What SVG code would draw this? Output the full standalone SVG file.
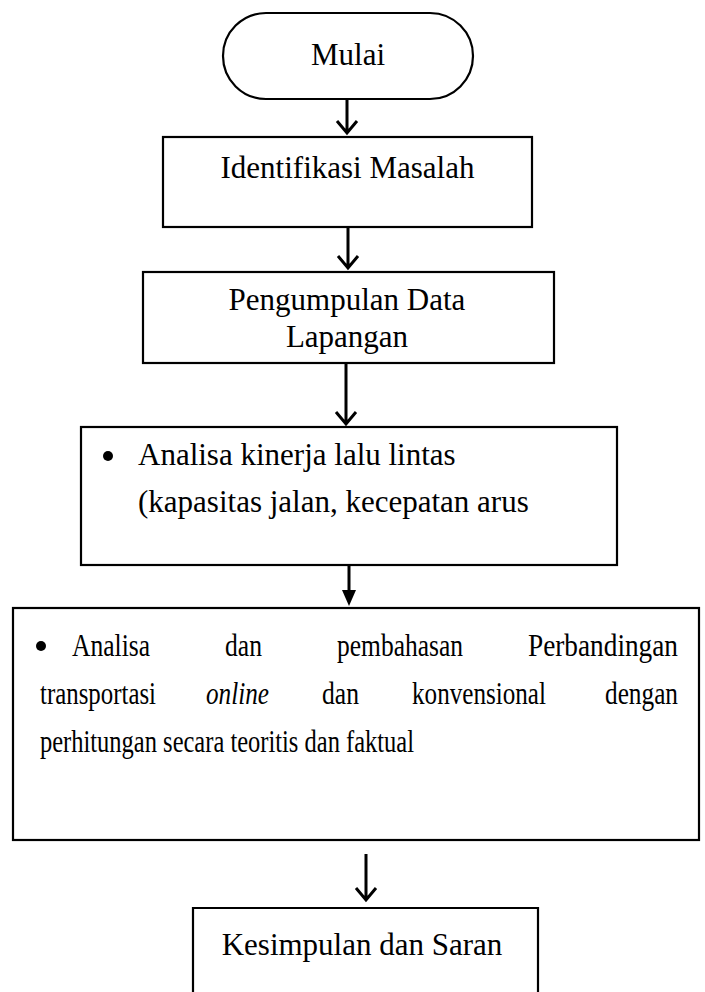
<svg xmlns="http://www.w3.org/2000/svg" width="705" height="992" viewBox="0 0 705 992">
<style>
.box{fill:#fff;stroke:#000;stroke-width:2.2}
.t{font-family:"Liberation Serif","Times New Roman",serif;font-size:31px;fill:#000}
.c{text-anchor:middle}
.ln{fill:none;stroke:#000;stroke-width:3}
</style>
<rect width="705" height="992" fill="#fff"/>
<g id="n1">
<rect class="box" x="223" y="13" width="250" height="86" rx="43" ry="43"/>
<text class="t c" x="348" y="65">Mulai</text>
</g>
<g id="n2">
<rect class="box" x="163" y="137" width="369" height="90"/>
<text class="t c" x="347.5" y="178">Identifikasi Masalah</text>
</g>
<g id="n3">
<rect class="box" x="143" y="272" width="411" height="91"/>
<text class="t c" x="347" y="310">Pengumpulan Data</text>
<text class="t c" x="347" y="347">Lapangan</text>
</g>
<g id="n4">
<rect class="box" x="81" y="427" width="536" height="138"/>
<circle cx="108" cy="456" r="5"/>
<text class="t" x="138" y="465">Analisa kinerja lalu lintas</text>
<text class="t" x="138" y="512">(kapasitas jalan, kecepatan arus</text>
</g>
<g id="n5">
<rect class="box" x="13" y="608" width="686" height="232"/>
<circle cx="41" cy="646" r="5"/>
<text class="t" x="72" y="656" textLength="78" lengthAdjust="spacingAndGlyphs">Analisa</text>
<text class="t" x="225" y="656" textLength="37" lengthAdjust="spacingAndGlyphs">dan</text>
<text class="t" x="337" y="656" textLength="126" lengthAdjust="spacingAndGlyphs">pembahasan</text>
<text class="t" x="528" y="656" textLength="150" lengthAdjust="spacingAndGlyphs">Perbandingan</text>
<text class="t" x="40" y="704" textLength="116" lengthAdjust="spacingAndGlyphs">transportasi</text>
<text class="t" x="206" y="704" textLength="63" lengthAdjust="spacingAndGlyphs" font-style="italic">online</text>
<text class="t" x="322" y="704" textLength="37" lengthAdjust="spacingAndGlyphs">dan</text>
<text class="t" x="412" y="704" textLength="134" lengthAdjust="spacingAndGlyphs">konvensional</text>
<text class="t" x="605" y="704" textLength="73" lengthAdjust="spacingAndGlyphs">dengan</text>
<text class="t" x="40" y="752" textLength="374" lengthAdjust="spacingAndGlyphs">perhitungan secara teoritis dan faktual</text>
</g>
<g id="n6">
<path class="box" d="M193,995 V908 H538 V995"/>
<text class="t c" x="362" y="955">Kesimpulan dan Saran</text>
</g>
<g id="connectors">
<path class="ln" d="M347,99 V133 M337,121 L347,133 L357,121"/>
<path class="ln" d="M348,227 V268 M338,256 L348,268 L358,256"/>
<path class="ln" d="M346,363 V424 M336,412 L346,424 L356,412"/>
<path class="ln" d="M349,565 V593"/>
<path d="M342,590 L356,590 L349,606 Z" fill="#000"/>
<path class="ln" d="M366,854 V900 M356,888 L366,900 L376,888"/>
</g>
</svg>
